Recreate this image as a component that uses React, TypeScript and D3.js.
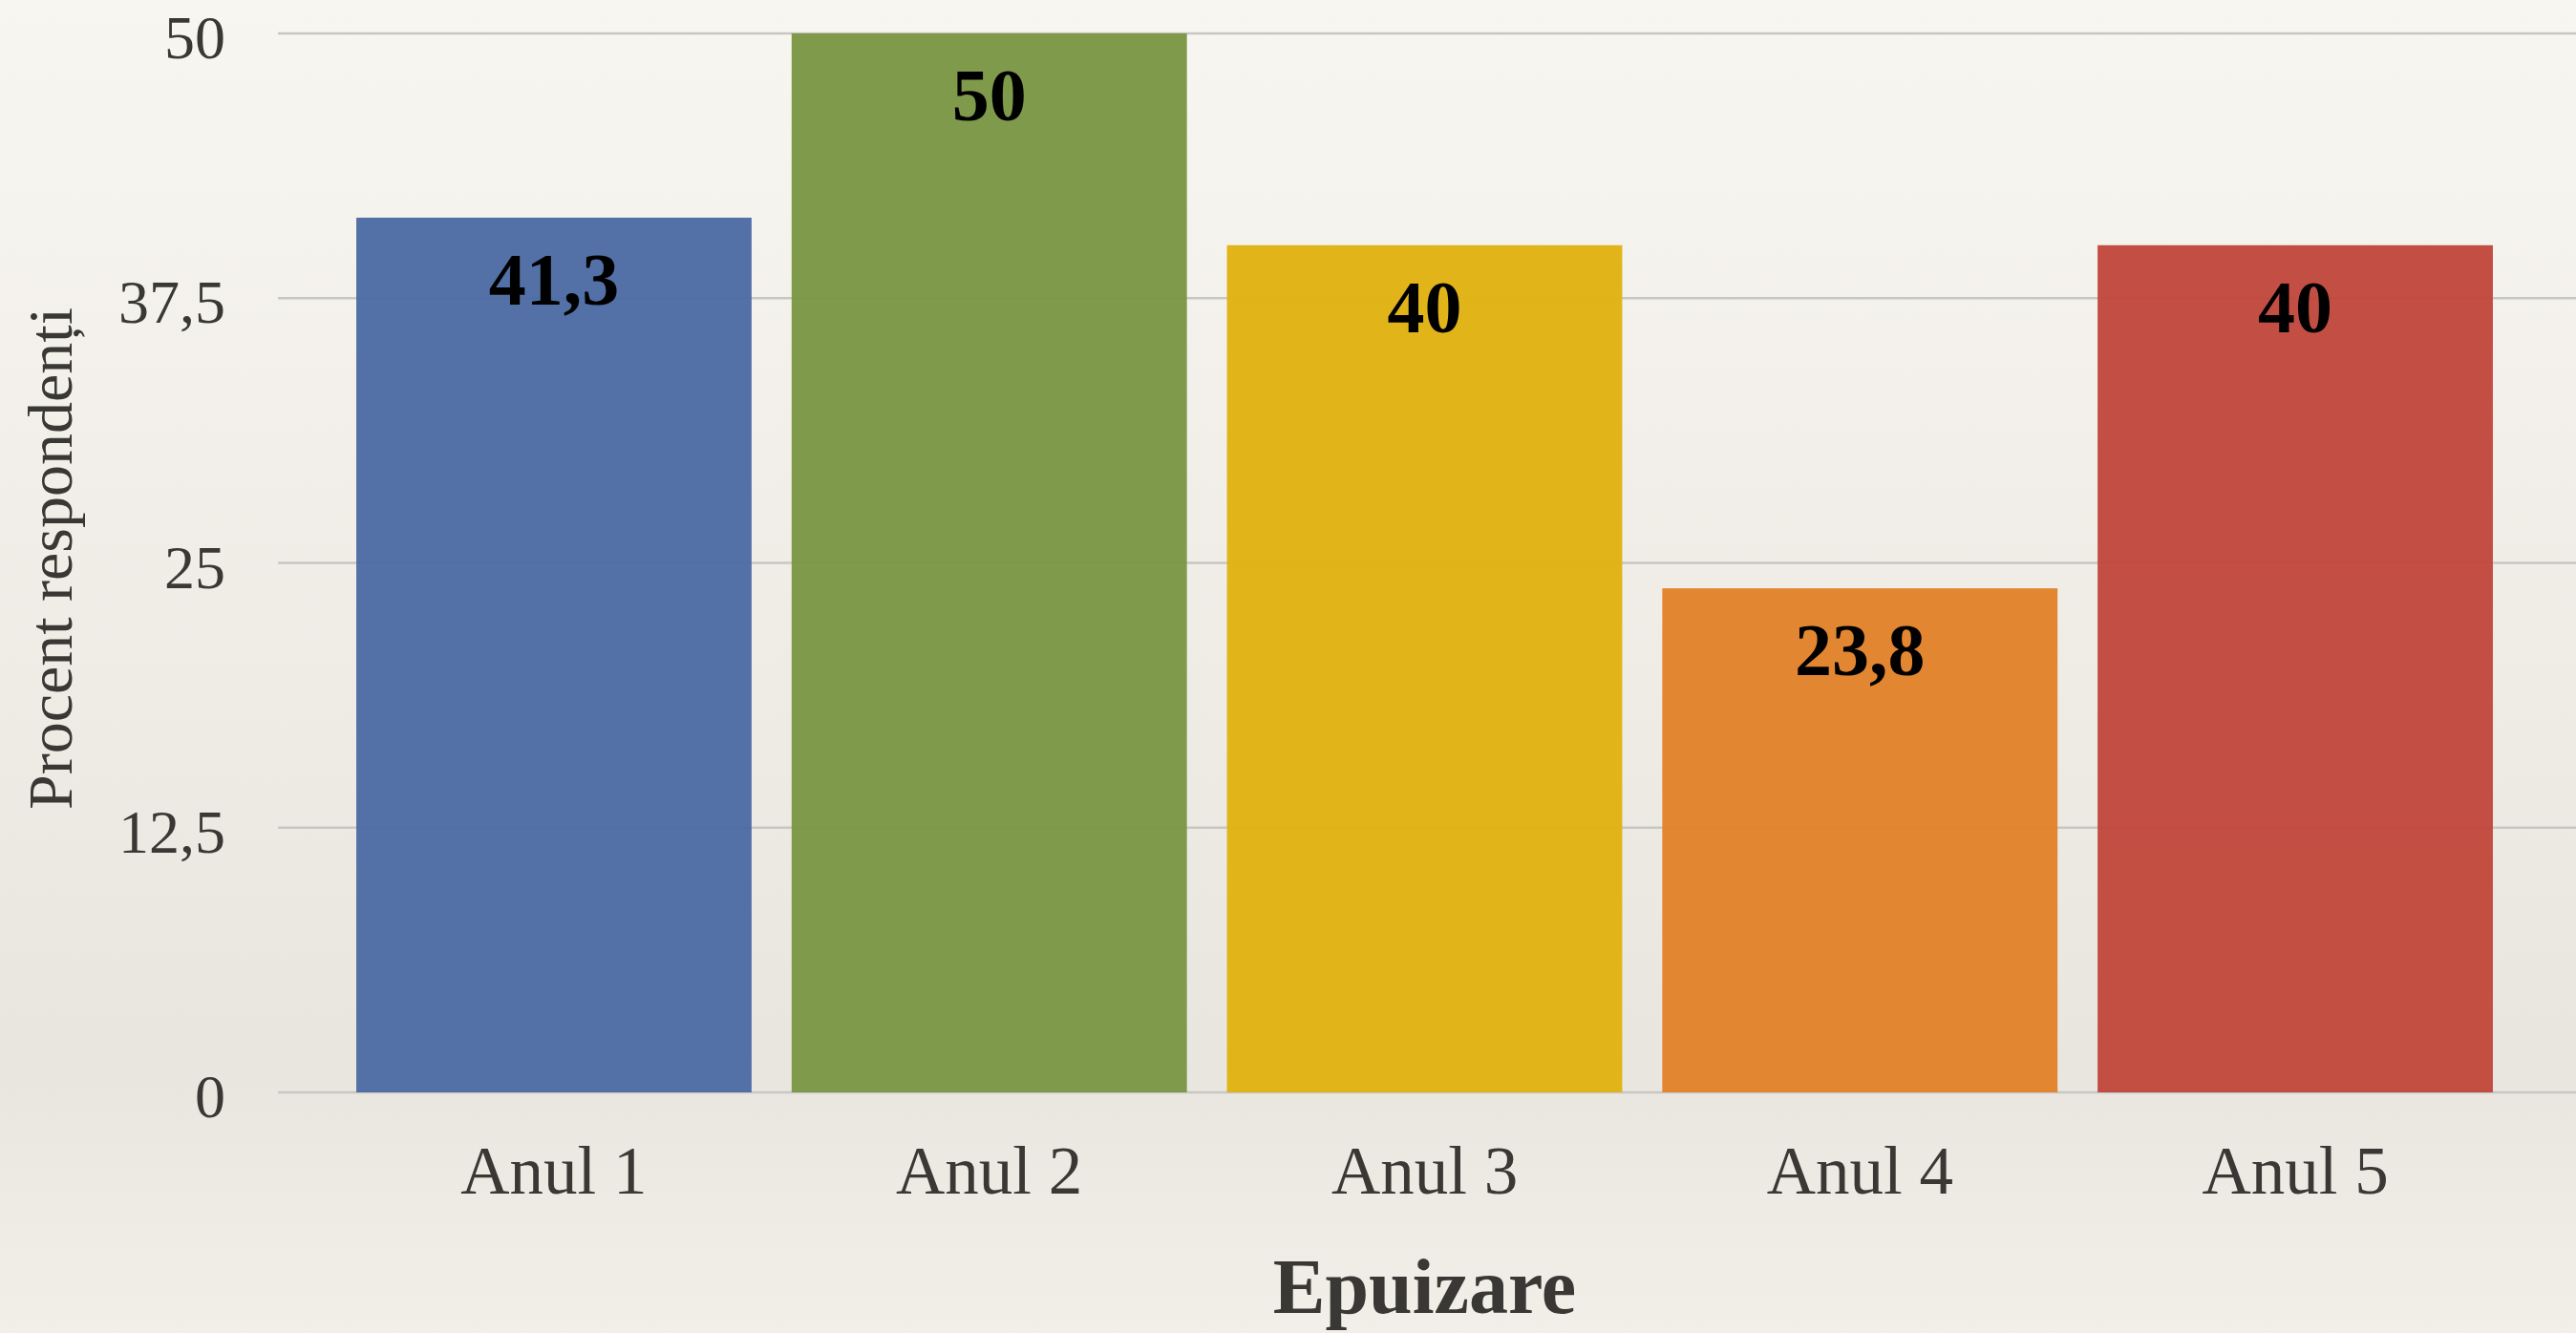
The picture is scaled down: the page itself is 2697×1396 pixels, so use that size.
import React from "react";
import * as d3 from "d3";

const categories = ["Anul 1", "Anul 2", "Anul 3", "Anul 4", "Anul 5"];
const values = [41.3, 50, 40, 23.8, 40];
const barColors = ["#4d6ca4", "#7b9745", "#e0b313", "#e2822b", "#c1483d"];
const yTicks = [0, 12.5, 25, 37.5, 50];

const yTitle = "Procent respondenți";
const xTitle = "Epuizare";

const width = 2697;
const height = 1396;
const FONT = "'Palatino Linotype', 'Book Antiqua', Palatino, 'Liberation Serif', serif";

// comma as decimal separator
const fmt = (v: number) => String(v).replace(".", ",");

const App = () => {
  const x = d3
    .scaleBand<string>()
    .domain(categories)
    .range([291, 2692])
    .paddingInner(0.092)
    .paddingOuter(0.18);

  const y = d3.scaleLinear().domain([0, 50]).range([1144, 35]);

  const data = categories.map((c, i) => ({ name: c, value: values[i], color: barColors[i] }));
  const plotCenter = (x(categories[0])! + x(categories[categories.length - 1])! + x.bandwidth()) / 2;

  return (
    <svg
      width={width}
      height={height}
      style={{ position: "absolute", left: 0, top: 0, display: "block" }}
    >
      <defs>
        <linearGradient id="paper" x1="0" y1="0" x2="0" y2="1">
          <stop offset="0" stopColor="#f8f6f0" />
          <stop offset="0.55" stopColor="#eeebe5" />
          <stop offset="0.8" stopColor="#e9e6e0" />
          <stop offset="1" stopColor="#f2efe9" />
        </linearGradient>
      </defs>
      <rect x={0} y={0} width={width} height={height} fill="url(#paper)" />

      {/* gridlines */}
      <g>
        {yTicks.map((t) => (
          <line
            key={t}
            x1={291}
            x2={width}
            y1={y(t)}
            y2={y(t)}
            stroke="#c8c7c4"
            strokeWidth={2.5}
          />
        ))}
      </g>

      {/* y tick labels */}
      <g fontFamily={FONT} fontSize={64} fill="#3a3834" textAnchor="end">
        {yTicks.map((t) => (
          <text key={t} x={236} y={y(t) + 26}>
            {fmt(t)}
          </text>
        ))}
      </g>

      {/* bars */}
      <g>
        {data.map((d) => (
          <rect
            key={d.name}
            x={x(d.name)}
            y={y(d.value)}
            width={x.bandwidth()}
            height={y(0) - y(d.value)}
            fill={d.color}
            opacity={0.97}
          />
        ))}
      </g>

      {/* value labels */}
      <g fontFamily="'Liberation Serif', 'Times New Roman', serif" fontSize={78} fontWeight="bold" fill="#000" textAnchor="middle">
        {data.map((d) => (
          <text key={d.name} x={x(d.name)! + x.bandwidth() / 2} y={y(d.value) + 91}>
            {fmt(d.value)}
          </text>
        ))}
      </g>

      {/* category labels */}
      <g fontFamily={FONT} fontSize={71} fill="#3a3834" textAnchor="middle">
        {categories.map((c) => (
          <text key={c} x={x(c)! + x.bandwidth() / 2} y={1250}>
            {c}
          </text>
        ))}
      </g>

      {/* axis titles */}
      <text
        x={plotCenter}
        y={1375}
        textAnchor="middle"
        fontFamily={FONT}
        fontSize={82}
        fontWeight="bold"
        fill="#3a3834"
      >
        {xTitle}
      </text>
      <text
        transform={`translate(75, 585) rotate(-90)`}
        textAnchor="middle"
        fontFamily={FONT}
        fontSize={66}
        fill="#3a3834"
      >
        {yTitle}
      </text>
    </svg>
  );
};

export default App;
